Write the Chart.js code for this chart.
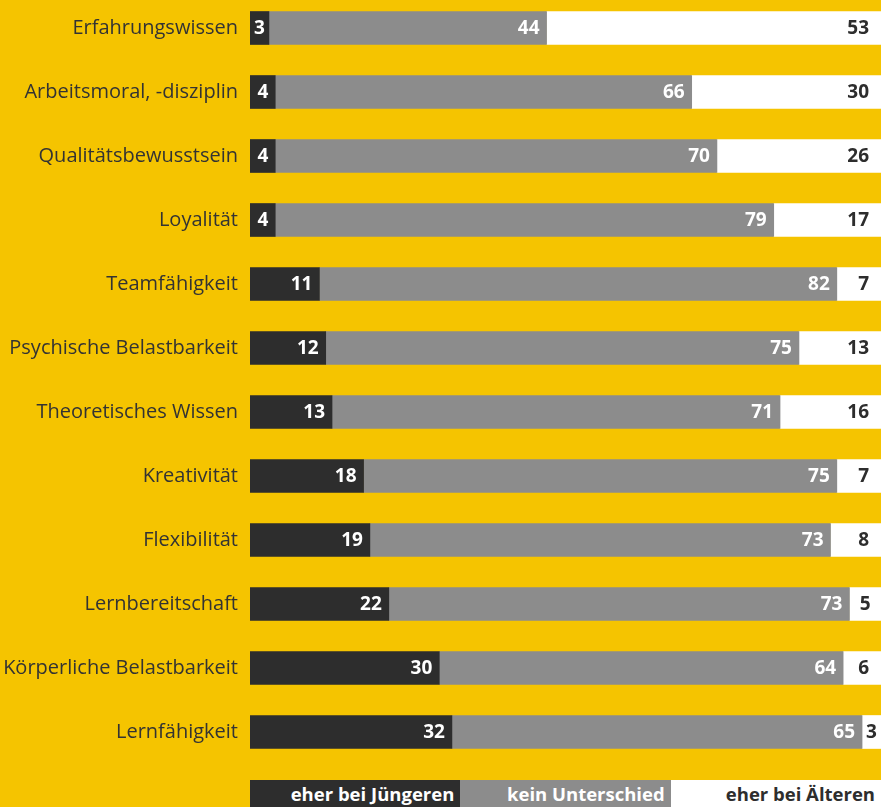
<!DOCTYPE html>
<html><head><meta charset="utf-8">
<script src="https://cdn.jsdelivr.net/npm/chart.js@4"></script>
<style>
html,body{margin:0;padding:0;background:#F5C400;width:881px;height:807px;overflow:hidden;font-family:"Open Sans",sans-serif;}
#wrap{position:absolute;left:0;top:-4px;width:881px;height:768px;}
#legend{position:absolute;left:250px;top:780px;width:631px;height:27px;display:flex;}
#legend div{flex:1;text-align:right;padding-right:6px;font-weight:700;font-size:18.5px;line-height:27px;box-sizing:border-box;white-space:nowrap;}
</style></head><body>
<div id="wrap"><canvas id="c"></canvas></div>
<div id="legend"></div>
<script>
const categories = ["Erfahrungswissen","Arbeitsmoral, -disziplin","Qualitätsbewusstsein","Loyalität","Teamfähigkeit","Psychische Belastbarkeit","Theoretisches Wissen","Kreativität","Flexibilität","Lernbereitschaft","Körperliche Belastbarkeit","Lernfähigkeit"];
const eherJuengere = [3,4,4,4,11,12,13,18,19,22,30,32];
const keinUnterschied = [44,66,70,79,82,75,71,75,73,73,64,65];
const eherAeltere = [53,30,26,17,7,13,16,7,8,5,6,3];
const seriesNames = ["eher bei Jüngeren","kein Unterschied","eher bei Älteren"];
const colors = ["#2d2d2d","#8c8c8c","#ffffff"];
const labelColors = ["#ffffff","#ffffff","#2d2d2d"];

const lg = document.getElementById('legend');
seriesNames.forEach((n,i)=>{const d=document.createElement('div');d.textContent=n;d.style.background=colors[i];d.style.color=labelColors[i];lg.appendChild(d);});

const valueLabels = {
  id:'valueLabels',
  afterDatasetsDraw(chart){
    const ctx = chart.ctx;
    ctx.save();
    ctx.font = '700 19px "Open Sans", sans-serif';
    ctx.textBaseline = 'middle';
    ctx.textAlign = 'left';
    chart.data.datasets.forEach((ds,di)=>{
      const meta = chart.getDatasetMeta(di);
      const pad = di===2 ? 12 : 7;
      meta.data.forEach((bar,i)=>{
        const t = String(ds.data[i]);
        const w = ctx.measureText(t).width;
        const start = Math.min(bar.base, bar.x), end = Math.max(bar.base, bar.x);
        let x = Math.max(end - pad - w, start + (end-start-w)/2);
        ctx.fillStyle = labelColors[di];
        ctx.fillText(t, x, bar.y+1);
      });
    });
    ctx.restore();
  }
};

new Chart(document.getElementById('c'), {
  type:'bar',
  data:{
    labels:categories,
    datasets:[
      {label:seriesNames[0],data:eherJuengere,backgroundColor:colors[0]},
      {label:seriesNames[1],data:keinUnterschied,backgroundColor:colors[1]},
      {label:seriesNames[2],data:eherAeltere,backgroundColor:colors[2]}
    ]
  },
  options:{
    indexAxis:'y',
    responsive:true,
    maintainAspectRatio:false,
    animation:false,
    layout:{padding:0},
    datasets:{bar:{barThickness:33,borderWidth:0}},
    plugins:{legend:{display:false},tooltip:{enabled:false}},
    scales:{
      x:{stacked:true,min:0,max:100,display:false},
      y:{stacked:true,
         grid:{display:false,drawTicks:false},
         border:{display:false},
         ticks:{color:'#333333',padding:12,font:{family:'"Open Sans", sans-serif',size:20}},
         afterFit(s){s.width=250;s.paddingTop=0;s.paddingBottom=0;}
      }
    }
  },
  plugins:[valueLabels]
});
</script>
</body></html>
